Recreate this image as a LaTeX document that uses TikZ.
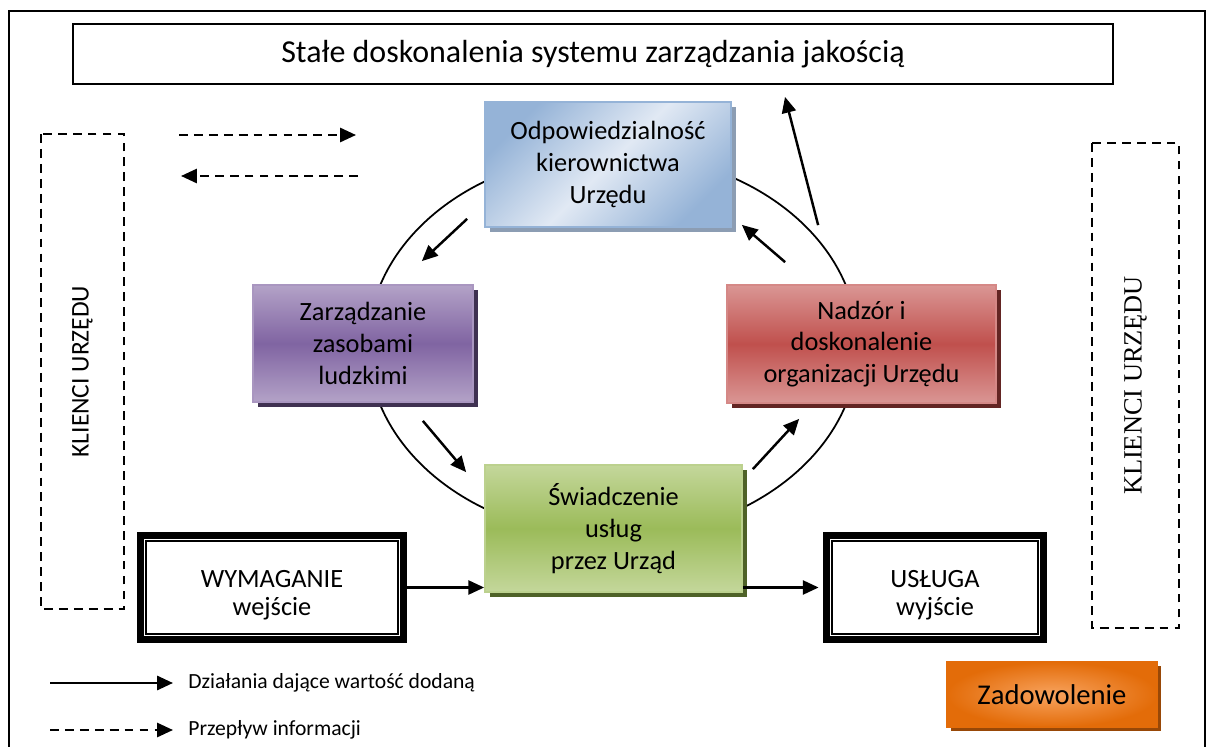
\documentclass[tikz,border=0pt]{standalone}
\usepackage{fontspec}
\setmainfont{Carlito}
\newfontfamily\serifklient{Liberation Serif}
\usetikzlibrary{arrows.meta,shadows}

\definecolor{niebA}{HTML}{95B3D7}
\definecolor{niebB}{HTML}{E1E9F4}
\definecolor{niebS}{HTML}{8C9DB3}
\definecolor{fiolA}{HTML}{B3A2C7}
\definecolor{fiolB}{HTML}{8064A2}
\definecolor{fiolS}{HTML}{3F3151}
\definecolor{czerA}{HTML}{DA9694}
\definecolor{czerB}{HTML}{C0504D}
\definecolor{czerS}{HTML}{632523}
\definecolor{zielA}{HTML}{C4D79B}
\definecolor{zielB}{HTML}{9BBB59}
\definecolor{zielS}{HTML}{4F6228}
\definecolor{pomA}{HTML}{E36C09}
\definecolor{pomB}{HTML}{F8A35E}
\definecolor{pomS}{HTML}{984807}

\tikzset{
  proces/.style={draw, line width=1pt, align=center, font=\fontsize{15}{18}\selectfont},
  pasek/.style={top color=#1A, bottom color=#1A, middle color=#1B, draw=#1A!80!#1B,
    general shadow={fill=#1S, shadow xshift=2.6pt, shadow yshift=-2.6pt}},
  klient/.style={draw, dashed, line width=1.2pt, dash pattern=on 5pt off 3.5pt, rotate=90},
  wejwyj/.style={draw, line width=4pt, fill=white, align=center,
    font=\fontsize{15}{15.5}\selectfont, minimum height=2.08cm, text height=34pt},
  dzial/.style={->, line width=1.4pt},
  info/.style={->, line width=1.3pt, dash pattern=on 5pt off 3.5pt},
  legenda/.style={anchor=west, inner xsep=0.3cm, font=\fontsize{12.3}{14}\selectfont}
}

\begin{document}
\begin{tikzpicture}[x=0.02cm, y=-0.02cm, >={Triangle[length=9pt,width=8pt]}]
\useasboundingbox (0,0) rectangle (1208,747);
% ramka
\draw[line width=1pt] (9,760) -- (9,11) -- (1205,11) -- (1205,760);
% cykl
\draw[line width=1pt] (613,345) ellipse [x radius=4.9cm, y radius=3.84cm];

\node[proces, fill=white, minimum width=20.8cm, minimum height=1.2cm,
  font=\fontsize{18.2}{22}\selectfont] (cel) at (593,54) {Stałe doskonalenia systemu zarządzania jakością};

\node[proces, draw=niebA, left color=niebA, right color=niebA, middle color=niebB, shading angle=45,
  general shadow={fill=niebS, shadow xshift=2.6pt, shadow yshift=-2.6pt},
  minimum width=4.92cm, minimum height=2.5cm] (odp) at (608,164.5) {Odpowiedzialność\\kierownictwa\\Urzędu};
\node[proces, pasek=fiol, minimum width=4.4cm, minimum height=2.34cm] (zarz) at (363,343.5) {Zarządzanie\\zasobami\\ludzkimi};
\node[proces, pasek=czer, minimum width=5.38cm, minimum height=2.36cm] (nad) at (861.5,344) {Nadzór i\\doskonalenie\\organizacji Urzędu};
\node[proces, pasek=ziel, minimum width=5.14cm, minimum height=2.54cm] (swi) at (613.5,528.5) {Świadczenie\\usług\\przez Urząd};

\node[wejwyj, minimum width=5.26cm] (wym) at (272,587.5) {WYMAGANIE\\wejście};
\node[wejwyj, minimum width=4.34cm] (usl) at (935,587.5) {USŁUGA\\wyjście};
\draw[line width=0.7pt] ([shift={(9,9)}]wym.north west) rectangle ([shift={(-9,-9)}]wym.south east);
\draw[line width=0.7pt] ([shift={(9,9)}]usl.north west) rectangle ([shift={(-9,-9)}]usl.south east);

\node[klient, minimum width=9.5cm, minimum height=1.66cm, font=\fontsize{14.5}{17}\selectfont] (klL) at (82.5,371.5) {KLIENCI URZĘDU};
\node[klient, minimum width=9.7cm, minimum height=1.74cm, font=\serifklient\fontsize{15}{18}\selectfont] (klP) at (1135.5,385.5) {KLIENCI URZĘDU};

\node[proces, draw=pomA, inner color=pomB, outer color=pomA,
  general shadow={fill=pomS, shadow xshift=2pt, shadow yshift=-2pt},
  minimum width=4.2cm, minimum height=1.3cm, font=\fontsize{16.3}{20}\selectfont] (zad) at (1052,694.5) {Zadowolenie};

% strzalki cyklu
\draw[dzial] ([shift={(-17,-9)}]odp.south west) -- ([shift={(-52,-23)}]zarz.north east);
\draw[dzial] ([shift={(-51,18)}]zarz.south east) -- ([shift={(-18,8)}]swi.north west);
\draw[dzial] ([shift={(10,5)}]swi.north east) -- ([shift={(73,15)}]nad.south west);
\draw[dzial] ([shift={(59,-22)}]nad.north west) -- ([shift={(10,-3)}]odp.south east);
\draw[dzial] ([shift={(92,-59)}]nad.north west) -- ([shift={(192,12)}]cel.south);

\draw[dzial] (wym.east) -- (wym.east -| swi.west);
\draw[dzial, shorten >=2.5pt] (swi.east |- usl.west) -- (usl.west);

% przeplyw informacji
\coordinate (i1) at (179,135);
\coordinate (i2) at (356,135);
\coordinate (i3) at (358,176);
\coordinate (i4) at (181,176);
\draw[info] (i1) -- (i2);
\draw[info] (i3) -- (i4);

% legenda
\coordinate (p1) at (50,683);
\coordinate (p2) at (50,730);
\node[legenda] (leg1) at (173,683) {Działania dające wartość dodaną};
\node[legenda] (leg2) at (173,730) {Przepływ informacji};
\draw[dzial] (p1) -- (leg1.west);
\draw[info] (p2) -- (leg2.west);
\end{tikzpicture}
\end{document}
